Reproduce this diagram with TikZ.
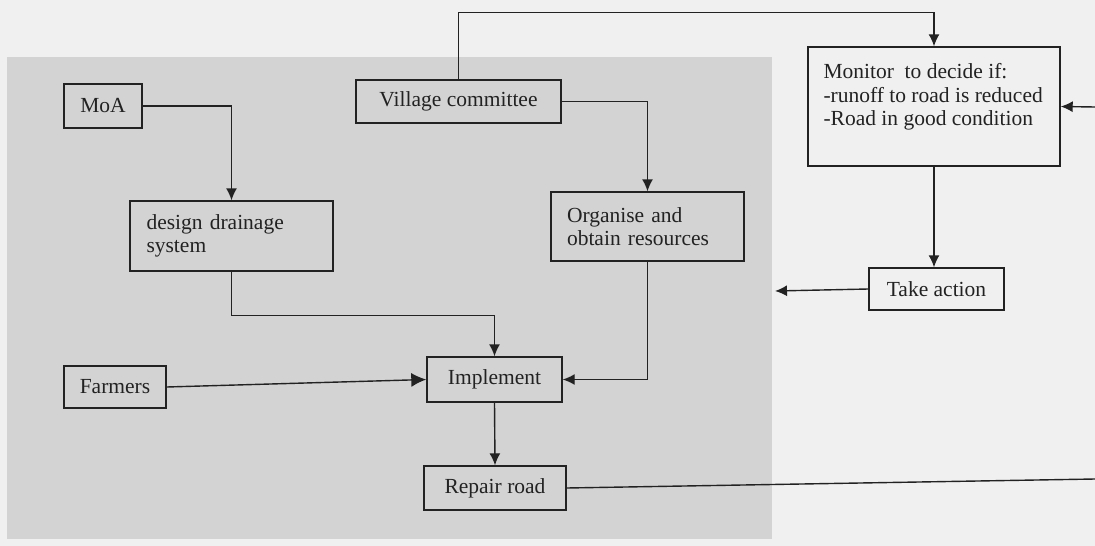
\documentclass[tikz,border=0pt]{standalone}
\usepackage{fontspec}
\setmainfont{Liberation Serif}
\usetikzlibrary{arrows.meta}
\definecolor{pagebg}{RGB}{240,240,240}
\definecolor{panel}{RGB}{211,211,211}
\definecolor{ink}{RGB}{34,34,34}
\begin{document}
\begin{tikzpicture}[x=1pt,y=-1pt,
  box/.style={draw=ink, line width=1.4pt, text=ink, inner sep=0pt,
    font=\fontsize{21.5}{23.5}\selectfont},
  flow/.style={draw=ink, line width=1.4pt, -{Latex[length=12pt,width=11pt]}},
  bigflow/.style={draw=ink, line width=1.4pt, -{Latex[length=15pt,width=14pt]}},
  plain/.style={draw=ink, line width=1.4pt},
]
% page and shaded panel
\fill[pagebg] (0,0) rectangle (1095,546);
\useasboundingbox (0,0) rectangle (1095,546);
\fill[panel] (7,57) rectangle (772,539);

% boxes
\node[box, minimum width=78pt, minimum height=44pt] (moa) at (103,106) {MoA};
\node[box, minimum width=205pt, minimum height=43pt] (vc) at (458.5,101.5) {Village committee};
\node[box, minimum width=203pt, minimum height=70pt, text width=170pt, align=left]
  (design) at (231.5,236) {design drainage\\system};
\node[box, minimum width=193pt, minimum height=69pt, text width=161pt, align=left]
  (org) at (647.5,226.5) {Organise and\\obtain resources};
\node[box, minimum width=252pt, minimum height=119pt,
  label={[anchor=north west, align=left, text=ink, inner sep=0pt,
    font=\fontsize{21.5}{23.5}\selectfont, xshift=16pt, yshift=-17pt]north west:%
    {Monitor\ \ to decide if:\\-runoff to road is reduced\\-Road in good condition}}]
  (mon) at (934,106.5) {};
\node[box, minimum width=135pt, minimum height=42pt] (act) at (936.5,289) {Take action};
\node[box, minimum width=102pt, minimum height=42pt] (farm) at (115,387) {Farmers};
\node[box, minimum width=135pt, minimum height=45pt] (impl) at (494.5,379.5) {Implement};
\node[box, minimum width=142pt, minimum height=44pt] (rep) at (495,488) {Repair road};

% free ends at the right edge and at the panel
\coordinate (fbout) at (1095,479);
\coordinate (fbin) at (1095,107);
\coordinate (panelin) at (775,291);

% connectors
\draw[flow] (moa.east) -| (design.north);
\draw[flow] (vc.east) -| (org.north);
\draw[flow] (vc.north) -- ++(0,-67) -| (mon.north);
\draw[flow] (design.south) -- ++(0,44) -| (impl.north);
\draw[flow] (org.south) |- (impl.east);
\draw[bigflow] (farm.east) -- (impl.west);
\draw[flow] (impl.south) -- (rep.north);
\draw[plain] (rep.east) -- (fbout);
\draw[flow] (fbin) -- (mon.east);
\draw[flow] (mon.south) -- (mon.south |- act.north);
\draw[flow] (act.west) -- (panelin);
\end{tikzpicture}
\end{document}
